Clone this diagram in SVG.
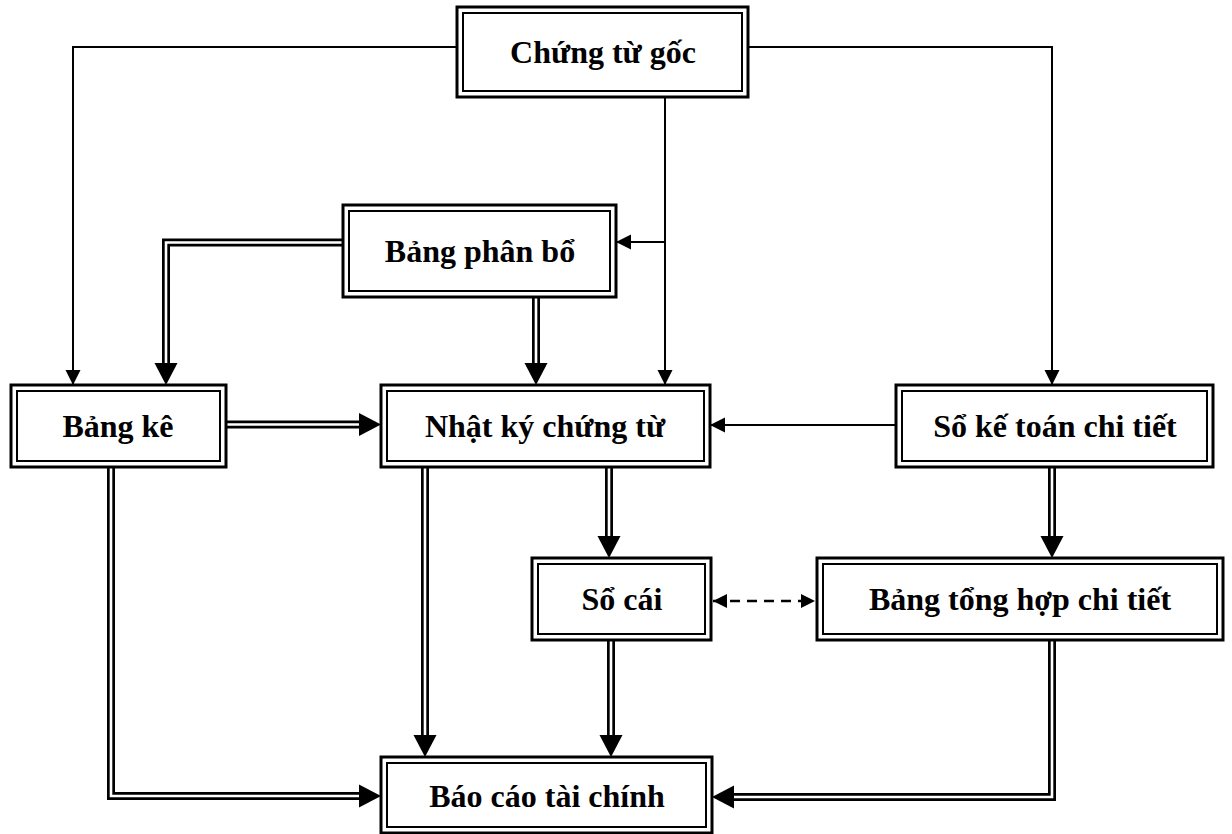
<svg xmlns="http://www.w3.org/2000/svg" xmlns:xlink="http://www.w3.org/1999/xlink" width="1232" height="834" viewBox="0 0 1232 834">
<style>
  .outer { fill: #fff; stroke: #000; stroke-width: 3; }
  .inner { fill: none; stroke: #000; stroke-width: 2; }
  .lbl { font-family: "Liberation Serif", "Times New Roman", serif; font-weight: bold; font-size: 32px; text-anchor: middle; fill: #000; }
  .single { fill: none; stroke: #000; stroke-width: 2; }
  .dblb { fill: none; stroke: #000; stroke-width: 8; stroke-linejoin: miter; }
  .dblw { fill: none; stroke: #fff; stroke-width: 2.6; stroke-linejoin: miter; }
  .dash { fill: none; stroke: #000; stroke-width: 2.5; stroke-dasharray: 10 7; }
  .head { fill: #000; }
</style>
<defs>
  <marker id="arr" markerUnits="userSpaceOnUse" markerWidth="16" markerHeight="16" refX="15" refY="7.5" orient="auto">
    <path d="M0,0 L15,7.5 L0,15 z" fill="#000"/>
  </marker>
  <marker id="arr2" markerUnits="userSpaceOnUse" markerWidth="16" markerHeight="16" refX="14" refY="7" orient="auto-start-reverse">
    <path d="M0,0 L14,7 L0,14 z" fill="#000"/>
  </marker>
  <path id="big" class="head" d="M-22,-11.5 L0,0 L-22,11.5 z"/>
</defs>
<rect width="1232" height="834" fill="#fff"/>

<g id="connectors">
  <path class="single" d="M457,47 H73 V385" marker-end="url(#arr)"/>
  <path class="single" d="M748,47 H1052 V385" marker-end="url(#arr)"/>
  <path class="single" d="M665,97 V385" marker-end="url(#arr)"/>
  <path class="single" d="M665,242 H616" marker-end="url(#arr)"/>
  <path class="single" d="M896,425 H710" marker-end="url(#arr)"/>
  <path class="dash" d="M713,601 H815" marker-start="url(#arr2)" marker-end="url(#arr2)"/>

  <path class="dblb" d="M343,242.5 H166 V365"/>
  <path class="dblw" d="M343,242.5 H166 V364"/>
  <use xlink:href="#big" transform="translate(166,385) rotate(90)"/>

  <path class="dblb" d="M536,297 V365"/>
  <path class="dblw" d="M536,297 V364"/>
  <use xlink:href="#big" transform="translate(536,385) rotate(90)"/>

  <path class="dblb" d="M226,424.5 H361"/>
  <path class="dblw" d="M226,424.5 H360"/>
  <use xlink:href="#big" transform="translate(381,424.5)"/>

  <path class="dblb" d="M425,467 V737"/>
  <path class="dblw" d="M425,467 V736"/>
  <use xlink:href="#big" transform="translate(425,757) rotate(90)"/>

  <path class="dblb" d="M609,467 V538"/>
  <path class="dblw" d="M609,467 V537"/>
  <use xlink:href="#big" transform="translate(609,558) rotate(90)"/>

  <path class="dblb" d="M111,467 V796 H361"/>
  <path class="dblw" d="M111,467 V796 H360"/>
  <use xlink:href="#big" transform="translate(381,796)"/>

  <path class="dblb" d="M1052,467 V538"/>
  <path class="dblw" d="M1052,467 V537"/>
  <use xlink:href="#big" transform="translate(1052,558) rotate(90)"/>

  <path class="dblb" d="M611,640 V737"/>
  <path class="dblw" d="M611,640 V736"/>
  <use xlink:href="#big" transform="translate(611,757) rotate(90)"/>

  <path class="dblb" d="M1052,640 V797 H732"/>
  <path class="dblw" d="M1052,640 V797 H733"/>
  <use xlink:href="#big" transform="translate(712,797) rotate(180)"/>
</g>

<g id="chung-tu-goc">
  <rect class="outer" x="457" y="7" width="291" height="90"/>
  <rect class="inner" x="463" y="13" width="279" height="78"/>
  <text class="lbl" x="603" y="63">Chứng từ gốc</text>
</g>
<g id="bang-phan-bo">
  <rect class="outer" x="343" y="205" width="273" height="92"/>
  <rect class="inner" x="349" y="211" width="261" height="80"/>
  <text class="lbl" x="480" y="262">Bảng phân bổ</text>
</g>
<g id="bang-ke">
  <rect class="outer" x="11" y="385" width="215" height="82"/>
  <rect class="inner" x="17" y="391" width="203" height="70"/>
  <text class="lbl" x="118" y="437">Bảng kê</text>
</g>
<g id="nhat-ky-chung-tu">
  <rect class="outer" x="381" y="385" width="329" height="82"/>
  <rect class="inner" x="387" y="391" width="317" height="70"/>
  <text class="lbl" x="545" y="437">Nhật ký chứng từ</text>
</g>
<g id="so-ke-toan-chi-tiet">
  <rect class="outer" x="896" y="385" width="317" height="82"/>
  <rect class="inner" x="902" y="391" width="305" height="70"/>
  <text class="lbl" x="1055" y="437">Sổ kế toán chi tiết</text>
</g>
<g id="so-cai">
  <rect class="outer" x="532" y="558" width="179" height="82"/>
  <rect class="inner" x="538" y="564" width="167" height="70"/>
  <text class="lbl" x="622" y="610">Sổ cái</text>
</g>
<g id="bang-tong-hop-chi-tiet">
  <rect class="outer" x="817" y="558" width="406" height="82"/>
  <rect class="inner" x="823" y="564" width="394" height="70"/>
  <text class="lbl" x="1020" y="610">Bảng tổng hợp chi tiết</text>
</g>
<g id="bao-cao-tai-chinh">
  <rect class="outer" x="381" y="757" width="331" height="76"/>
  <rect class="inner" x="387" y="763" width="319" height="64"/>
  <text class="lbl" x="547" y="807">Báo cáo tài chính</text>
</g>
</svg>
